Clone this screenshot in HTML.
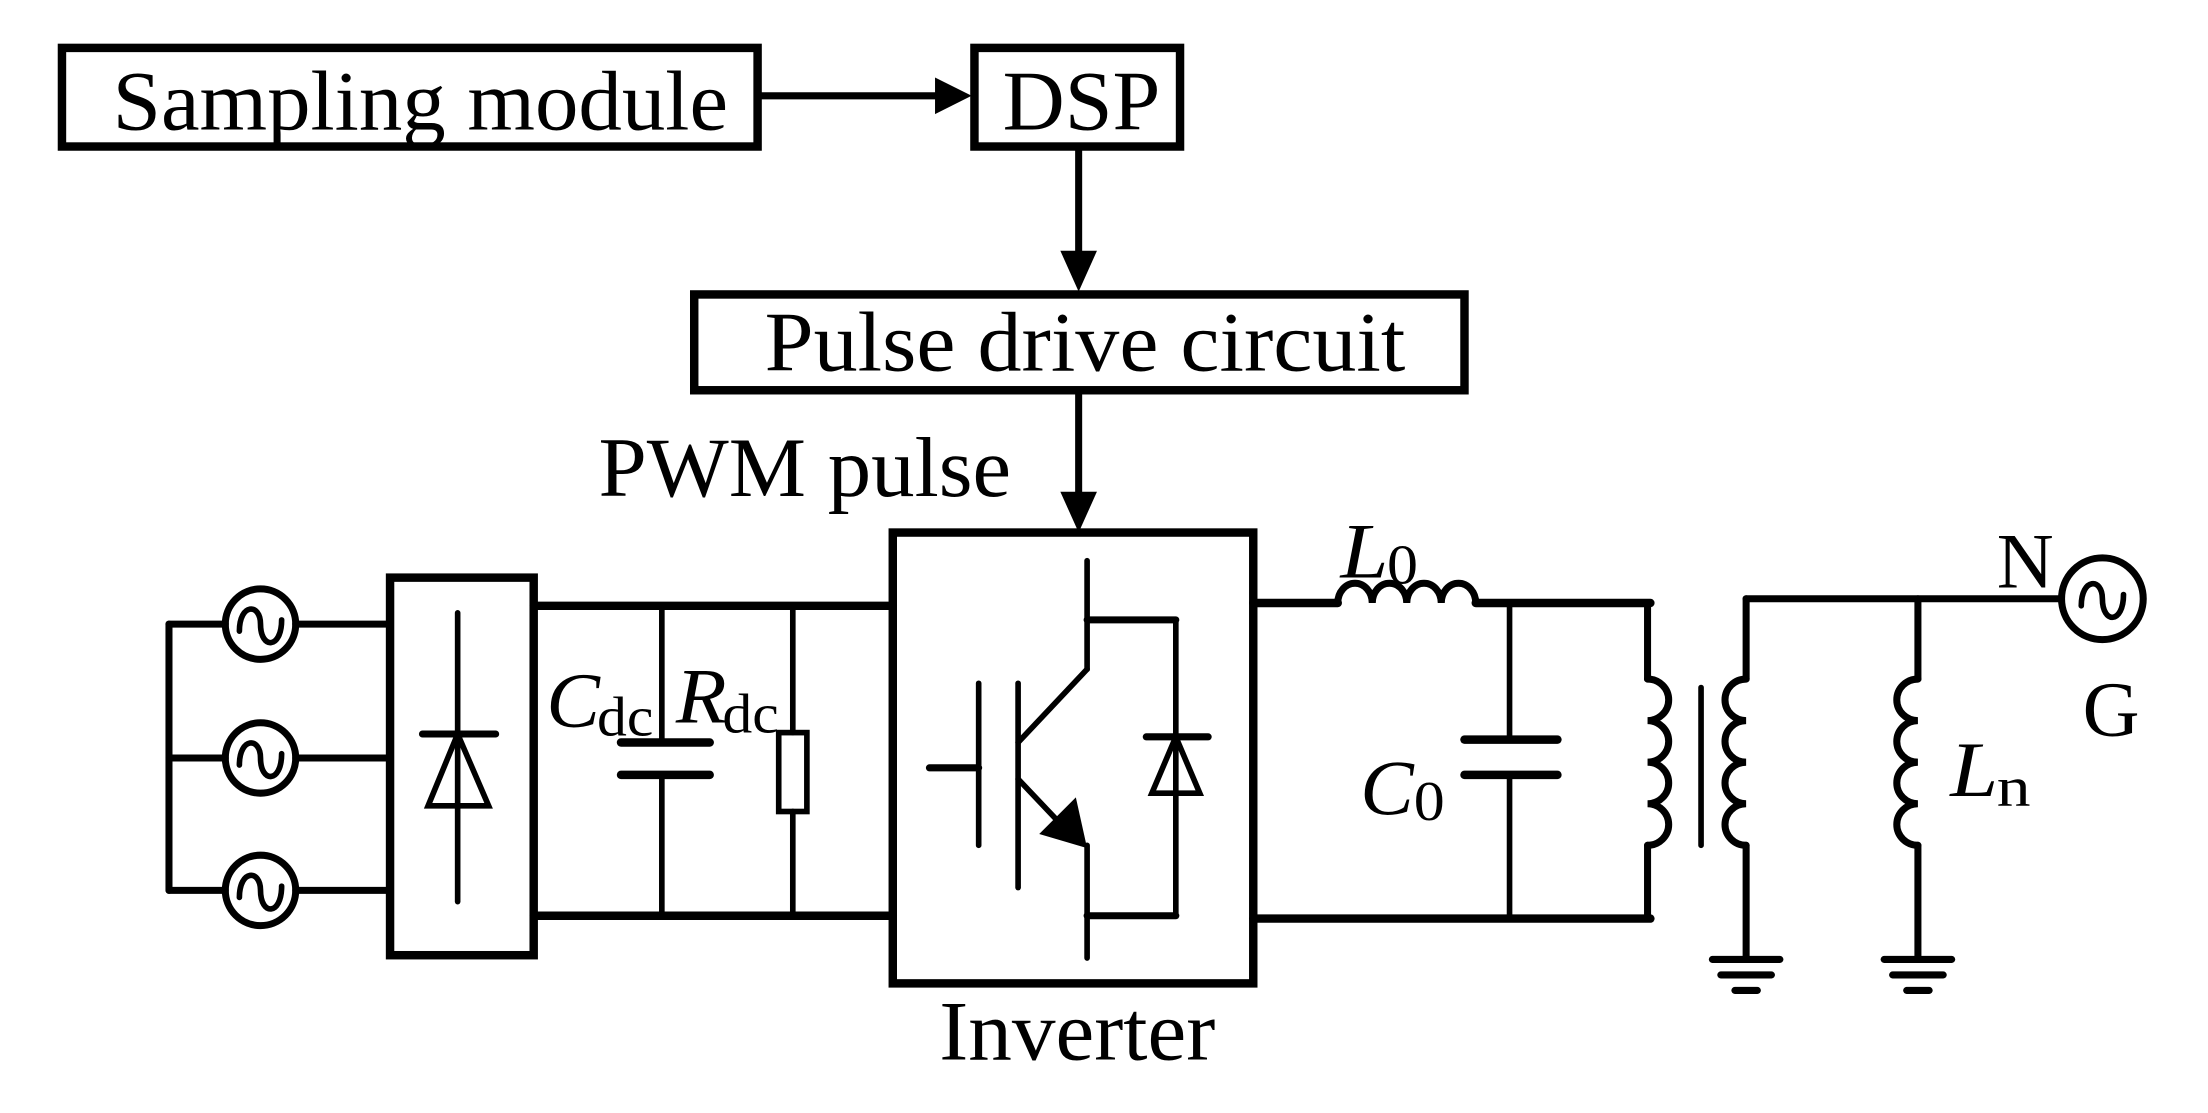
<!DOCTYPE html>
<html><head><meta charset="utf-8"><style>
html,body{margin:0;padding:0;background:#fff;}
svg{display:block;}
text{font-family:"Liberation Serif",serif;fill:#000;}
</style></head><body>
<svg width="2208" height="1113" viewBox="0 0 1568 790" preserveAspectRatio="none" xmlns="http://www.w3.org/2000/svg">
<g fill="none" stroke="#000" stroke-width="5" stroke-linecap="round" stroke-linejoin="miter">
<rect x="44" y="34" width="494" height="70" stroke-width="6"/>
<rect x="692" y="34" width="146" height="70" stroke-width="6"/>
<rect x="493" y="209" width="547" height="68" stroke-width="6"/>
<line x1="538" y1="68" x2="670" y2="68"/>
<line x1="766" y1="104" x2="766" y2="185"/>
<line x1="766" y1="277" x2="766" y2="355"/>
<rect x="634" y="378" width="256" height="320" stroke-width="6"/>
<circle cx="185" cy="443" r="25"/>
<circle cx="185" cy="538" r="25"/>
<circle cx="185" cy="632" r="25"/>
<line x1="120" y1="443" x2="120" y2="632"/>
<line x1="120" y1="443" x2="160" y2="443"/>
<line x1="120" y1="538" x2="160" y2="538"/>
<line x1="120" y1="632" x2="160" y2="632"/>
<line x1="210" y1="443" x2="276" y2="443"/>
<line x1="210" y1="538" x2="276" y2="538"/>
<line x1="210" y1="632" x2="276" y2="632"/>
<rect x="277" y="410" width="102" height="268" stroke-width="6"/>
<line x1="325" y1="435" x2="325" y2="640" stroke-width="4"/>
<line x1="300" y1="521" x2="352" y2="521"/>
<polygon points="325,521 304,572 347,572" stroke-width="4"/>
<line x1="379" y1="430" x2="634" y2="430" stroke-width="6"/>
<line x1="379" y1="650" x2="634" y2="650" stroke-width="6"/>
<line x1="470" y1="430" x2="470" y2="527" stroke-width="4"/>
<line x1="470" y1="550" x2="470" y2="650" stroke-width="4"/>
<line x1="441" y1="527" x2="504" y2="527" stroke-width="6"/>
<line x1="441" y1="550" x2="504" y2="550" stroke-width="6"/>
<line x1="563" y1="430" x2="563" y2="520" stroke-width="4"/>
<rect x="553" y="520" width="20" height="56" stroke-width="4"/>
<line x1="563" y1="576" x2="563" y2="650" stroke-width="4"/>
<line x1="772" y1="398" x2="772" y2="475" stroke-width="4"/>
<line x1="772" y1="475" x2="723" y2="527" stroke-width="4"/>
<line x1="723" y1="485" x2="723" y2="630" stroke-width="4"/>
<line x1="695" y1="485" x2="695" y2="600" stroke-width="4"/>
<line x1="660" y1="545" x2="695" y2="545"/>
<line x1="723" y1="553" x2="760" y2="592" stroke-width="4"/>
<line x1="772" y1="600" x2="772" y2="680" stroke-width="4"/>
<line x1="772" y1="440" x2="835" y2="440"/>
<line x1="772" y1="650" x2="835" y2="650"/>
<line x1="835" y1="440" x2="835" y2="650" stroke-width="4"/>
<line x1="814" y1="523" x2="858" y2="523"/>
<polygon points="835,523 818,563 852,563" stroke-width="4"/>
<line x1="890" y1="428" x2="950" y2="428" stroke-width="6"/>
<path d="M950 428 a12.25 14 0 0 1 24.5 0 a12.25 14 0 0 1 24.5 0 a12.25 14 0 0 1 24.5 0 a12.25 14 0 0 1 24.5 0"/>
<line x1="1048" y1="428" x2="1172" y2="428" stroke-width="6"/>
<line x1="890" y1="652" x2="1172" y2="652" stroke-width="6"/>
<line x1="1072" y1="428" x2="1072" y2="525" stroke-width="4"/>
<line x1="1072" y1="550" x2="1072" y2="652" stroke-width="4"/>
<line x1="1040" y1="525" x2="1106" y2="525" stroke-width="6"/>
<line x1="1040" y1="550" x2="1106" y2="550" stroke-width="6"/>
<line x1="1170" y1="428" x2="1170" y2="482"/>
<path d="M1170 482 a15 14.75 0 0 1 0 29.5 a15 14.75 0 0 1 0 29.5 a15 14.75 0 0 1 0 29.5 a15 14.75 0 0 1 0 29.5"/>
<line x1="1170" y1="600" x2="1170" y2="652"/>
<line x1="1208" y1="488" x2="1208" y2="600" stroke-width="4"/>
<line x1="1240" y1="425" x2="1462" y2="425"/>
<line x1="1240" y1="425" x2="1240" y2="482"/>
<path d="M1240 482 a15 14.75 0 0 0 0 29.5 a15 14.75 0 0 0 0 29.5 a15 14.75 0 0 0 0 29.5 a15 14.75 0 0 0 0 29.5"/>
<line x1="1240" y1="600" x2="1240" y2="680"/>
<line x1="1362" y1="425" x2="1362" y2="482"/>
<path d="M1362 482 a15 14.75 0 0 0 0 29.5 a15 14.75 0 0 0 0 29.5 a15 14.75 0 0 0 0 29.5 a15 14.75 0 0 0 0 29.5"/>
<line x1="1362" y1="600" x2="1362" y2="680"/>
<line x1="1216" y1="681" x2="1264" y2="681"/>
<line x1="1222" y1="692" x2="1258" y2="692"/>
<line x1="1232" y1="703" x2="1248" y2="703"/>
<line x1="1338" y1="681" x2="1386" y2="681"/>
<line x1="1344" y1="692" x2="1380" y2="692"/>
<line x1="1354" y1="703" x2="1370" y2="703"/>
<circle cx="1493" cy="425" r="29"/>
<path d="M170 448 c0 -20 15 -20 15 -5 c0 18 15 18 15 -3" stroke-width="4"/>
<path d="M170 543 c0 -20 15 -20 15 -5 c0 18 15 18 15 -3" stroke-width="4"/>
<path d="M170 637 c0 -20 15 -20 15 -5 c0 18 15 18 15 -3" stroke-width="4"/>
<path d="M1478 430 c0 -20 15 -20 15 -5 c0 18 15 18 15 -3" stroke-width="4"/>
</g>
<g fill="#000">
<polygon points="690,68 664,55 664,81"/>
<polygon points="766,207 753,178 779,178"/>
<polygon points="766,378 753,349 779,349"/>
<polygon points="772,602 738,592 764,566"/>
</g>
<g font-size="60">
<text x="80" y="92" textLength="437" lengthAdjust="spacingAndGlyphs">Sampling module</text>
<text x="712" y="92" textLength="112" lengthAdjust="spacingAndGlyphs">DSP</text>
<text x="543" y="263" textLength="455" lengthAdjust="spacingAndGlyphs">Pulse drive circuit</text>
<text x="425" y="352" textLength="293" lengthAdjust="spacingAndGlyphs">PWM pulse</text>
<text x="667" y="752" textLength="196" lengthAdjust="spacingAndGlyphs">Inverter</text>
<text x="388" y="516" font-style="italic" font-size="56" textLength="38" lengthAdjust="spacingAndGlyphs">C</text>
<text x="424" y="522" font-size="40" textLength="40" lengthAdjust="spacingAndGlyphs">dc</text>
<text x="480" y="513" font-style="italic" font-size="56" textLength="36" lengthAdjust="spacingAndGlyphs">R</text>
<text x="513" y="520" font-size="40" textLength="40" lengthAdjust="spacingAndGlyphs">dc</text>
<text x="952" y="410" font-style="italic" font-size="56" textLength="34" lengthAdjust="spacingAndGlyphs">L</text>
<text x="985" y="414" font-size="40" textLength="22" lengthAdjust="spacingAndGlyphs">0</text>
<text x="966" y="578" font-style="italic" font-size="56" textLength="38" lengthAdjust="spacingAndGlyphs">C</text>
<text x="1004" y="582" font-size="40" textLength="22" lengthAdjust="spacingAndGlyphs">0</text>
<text x="1385" y="565" font-style="italic" font-size="56" textLength="34" lengthAdjust="spacingAndGlyphs">L</text>
<text x="1418" y="572" font-size="40" textLength="24" lengthAdjust="spacingAndGlyphs">n</text>
<text x="1418" y="417" font-size="56">N</text>
<text x="1479" y="522" font-size="56">G</text>
</g>
</svg>
</body></html>
